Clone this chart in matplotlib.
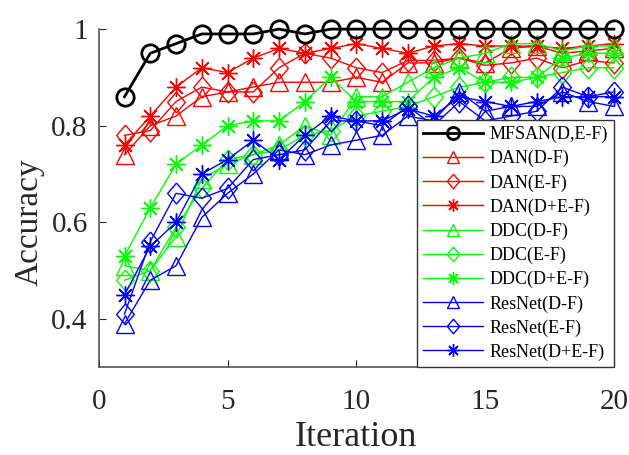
import matplotlib
matplotlib.use("Agg")
import matplotlib.pyplot as plt

iterations = list(range(1, 21))

mfsan = [0.86, 0.95, 0.97, 0.99, 0.99, 0.99, 1.0, 0.99, 1.0, 1.0,
         1.0, 1.0, 1.0, 1.0, 1.0, 1.0, 1.0, 1.0, 1.0, 1.0]
dan_d = [0.74, 0.80, 0.82, 0.86, 0.87, 0.88, 0.89, 0.89, 0.89, 0.90,
         0.89, 0.93, 0.93, 0.94, 0.93, 0.96, 0.965, 0.95, 0.955, 0.96]
dan_e = [0.78, 0.79, 0.85, 0.88, 0.87, 0.87, 0.92, 0.95, 0.94, 0.92,
         0.91, 0.935, 0.935, 0.94, 0.925, 0.93, 0.94, 0.92, 0.935, 0.93]
dan_de = [0.76, 0.82, 0.88, 0.92, 0.91, 0.94, 0.96, 0.95, 0.96, 0.97,
          0.96, 0.95, 0.965, 0.97, 0.965, 0.965, 0.965, 0.96, 0.965, 0.97]
ddc_d = [0.51, 0.50, 0.57, 0.69, 0.72, 0.74, 0.76, 0.80, 0.78, 0.86,
         0.86, 0.89, 0.92, 0.94, 0.95, 0.97, 0.97, 0.955, 0.965, 0.965]
ddc_e = [0.48, 0.50, 0.59, 0.67, 0.73, 0.74, 0.75, 0.78, 0.79, 0.82,
         0.83, 0.84, 0.86, 0.88, 0.89, 0.90, 0.90, 0.91, 0.92, 0.92]
ddc_de = [0.53, 0.63, 0.72, 0.76, 0.80, 0.81, 0.81, 0.85, 0.90, 0.85,
          0.85, 0.85, 0.90, 0.92, 0.89, 0.89, 0.90, 0.94, 0.95, 0.95]
res_d = [0.39, 0.48, 0.51, 0.61, 0.66, 0.70, 0.75, 0.74, 0.76, 0.77,
         0.78, 0.82, 0.81, 0.87, 0.83, 0.84, 0.84, 0.87, 0.85, 0.84]
res_e = [0.41, 0.56, 0.66, 0.65, 0.67, 0.73, 0.74, 0.75, 0.81, 0.81,
         0.80, 0.84, 0.80, 0.85, 0.81, 0.82, 0.83, 0.88, 0.86, 0.87]
res_de = [0.45, 0.55, 0.60, 0.70, 0.73, 0.77, 0.73, 0.78, 0.82, 0.81,
          0.81, 0.835, 0.82, 0.86, 0.85, 0.84, 0.85, 0.86, 0.86, 0.86]

labels = ["MFSAN(D,E-F)", "DAN(D-F)", "DAN(E-F)", "DAN(D+E-F)",
          "DDC(D-F)", "DDC(E-F)", "DDC(D+E-F)",
          "ResNet(D-F)", "ResNet(E-F)", "ResNet(D+E-F)"]
series = [mfsan, dan_d, dan_e, dan_de, ddc_d, ddc_e, ddc_de, res_d, res_e, res_de]
colors = ["black", "#ff0000", "#ff0000", "#ff0000", "#00ff00", "#00ff00", "#00ff00",
          "#0000ff", "#0000ff", "#0000ff"]
kinds = ["circle", "tri", "dia", "star", "tri", "dia", "star", "tri", "dia", "star"]

# slightly tall diamond like matlab's
diamond = [(0, 1), (0.85, 0), (0, -1), (-0.85, 0), (0, 1)]

plt.rcParams["font.family"] = "Liberation Serif"

fig = plt.figure(figsize=(6.29, 4.55), dpi=100)
ax = fig.add_axes([0.157, 0.193, 0.819, 0.743])

for vals, lab, c, k in zip(series, labels, colors, kinds):
    if k == "circle":
        ax.plot(iterations, vals, color=c, marker="o", markersize=12.5, lw=2,
                markerfacecolor="none", markeredgewidth=2, label=lab,
                clip_on=False, zorder=5)
    elif k == "dia":
        ax.plot(iterations, vals, color=c, marker=diamond, markersize=15, lw=1,
                markerfacecolor="none", markeredgewidth=1, label=lab, clip_on=False)
    elif k == "tri":
        ax.plot(iterations, vals, color=c, marker="^", markersize=13, lw=1,
                markerfacecolor="none", markeredgewidth=1, label=lab, clip_on=False)
    else:
        ax.plot(iterations, vals, color=c, marker=(8, 2, 0), markersize=13, lw=1,
                markeredgewidth=1, label=lab, clip_on=False)

ax.set_xlim(0, 20)
ax.set_ylim(0.3, 1.0)
ax.set_xticks([0, 5, 10, 15, 20])
ax.set_yticks([0.4, 0.6, 0.8, 1.0])
ax.set_yticklabels(["0.4", "0.6", "0.8", "1"])
ax.set_xlabel("Iteration", fontsize=26, color="#262626")
ax.set_ylabel("Accuracy", fontsize=24, color="#262626")
ax.xaxis.set_label_coords(0.5, -0.158, transform=ax.transAxes)
ax.yaxis.set_label_coords(-0.105, 0.43, transform=ax.transAxes)
ax.tick_params(direction="in", length=5, labelsize=21, colors="#262626")
ax.tick_params(axis="x", pad=16)
ax.tick_params(axis="y", pad=8)
for s in ["top", "right"]:
    ax.spines[s].set_visible(False)
for s in ["left", "bottom"]:
    ax.spines[s].set_color("#555555")
    ax.spines[s].set_linewidth(1.2)

leg = ax.legend(loc="lower right", bbox_to_anchor=(1.0, 0.0), fontsize=13,
                handlelength=3.3, labelspacing=0.38, borderpad=0.35,
                handletextpad=0.35, borderaxespad=0, fancybox=False,
                framealpha=1, edgecolor="#333333", markerscale=0.7)
leg.get_frame().set_linewidth(1.0)
leg.set_zorder(10)

fig.savefig("out.png", dpi=100)
